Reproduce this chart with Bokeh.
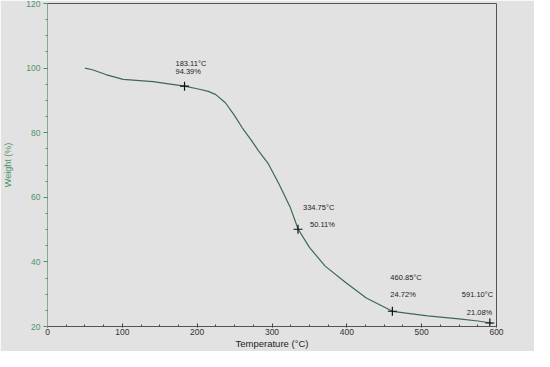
from bokeh.plotting import figure
from bokeh.models import Range1d, Label, SingleIntervalTicker, ColumnDataSource
from bokeh.core.properties import value
from bokeh.embed import file_html
from bokeh.resources import INLINE

# TGA curve
temperature = [50, 60, 78, 101, 141, 183, 200, 215, 225, 238, 250, 260, 272, 282, 295,
               309, 324, 335, 350, 371, 398, 426, 461, 508, 553, 575, 595]
weight = [100.0, 99.5, 98.0, 96.5, 95.8, 94.4, 93.6, 92.8, 91.8, 89.2, 85.3, 81.6, 77.8, 74.4, 70.4,
          64.3, 57.1, 50.1, 44.5, 38.7, 33.7, 28.8, 24.7, 23.3, 22.3, 21.7, 21.0]

# marked points
mark_temp = [183.11, 334.75, 460.85, 591.10]
mark_weight = [94.39, 50.11, 24.72, 21.08]

x_ticks = [0, 100, 200, 300, 400, 500, 600]
y_ticks = [20, 40, 60, 80, 100, 120]

FONT = "Liberation Sans"
BG = "#e2e2e2"
GREEN = "#4f9268"
CURVE = "#3b6b4f"

p = figure(width=534, height=351, output_backend="svg", toolbar_location=None,
           x_range=Range1d(x_ticks[0], x_ticks[-1]), y_range=Range1d(y_ticks[0], y_ticks[-1]),
           min_border_left=43, min_border_right=38, min_border_top=3, min_border_bottom=22)
p.background_fill_color = BG
p.border_fill_color = BG
p.outline_line_color = "#555555"
p.outline_line_width = 1
p.grid.visible = False

# axes
p.xaxis.ticker = SingleIntervalTicker(interval=100, num_minor_ticks=4)
p.yaxis.ticker = SingleIntervalTicker(interval=20, num_minor_ticks=4)
p.xaxis.axis_label = "Temperature (°C)"
p.yaxis.axis_label = "Weight (%)"
for ax in (p.xaxis, p.yaxis):
    ax.axis_label_text_font = FONT
    ax.axis_label_text_font_style = "normal"
    ax.major_label_text_font = FONT
    ax.axis_label_standoff = 0

p.xaxis.axis_line_color = "#555555"
p.xaxis.major_tick_line_color = "#444444"
p.xaxis.minor_tick_line_color = "#444444"
p.xaxis.major_tick_in = 3
p.xaxis.major_tick_out = 1
p.xaxis.minor_tick_in = 2
p.xaxis.minor_tick_out = 0
p.xaxis.major_label_standoff = 1
p.xaxis.major_label_text_font_size = "8.5px"
p.xaxis.major_label_text_color = "#333333"
p.xaxis.axis_label_text_font_size = "9.5px"
p.xaxis.axis_label_text_color = "#222222"

p.yaxis.axis_line_color = "#7fae8e"
p.yaxis.major_tick_line_color = "#5a8a6a"
p.yaxis.minor_tick_line_color = "#5a8a6a"
p.yaxis.major_tick_in = 0
p.yaxis.major_tick_out = 4
p.yaxis.minor_tick_in = 0
p.yaxis.minor_tick_out = 2
p.yaxis.major_label_standoff = 3
p.yaxis.major_label_text_font_size = "8.5px"
p.yaxis.major_label_text_color = GREEN
p.yaxis.axis_label_text_font_size = "9px"
p.yaxis.axis_label_text_color = GREEN
p.yaxis.axis_label_standoff = 10

# curve
p.line(temperature, weight, line_color=CURVE, line_width=1.2)

# markers
p.scatter(mark_temp, mark_weight, marker="cross", size=9, line_color="#111111", line_width=1.2)

# annotation labels (text glyphs, offset in screen pixels from each marked point)
t_labels = [f"{t:.2f}°C" for t in mark_temp]
w_labels = [f"{w:.2f}%" for w in mark_weight]
ann = ColumnDataSource(dict(
    x=mark_temp + mark_temp,
    y=mark_weight + mark_weight,
    text=t_labels + w_labels,
    dx=[-9, 5, -2, -28, -9, 12, -2, -23],
    dy=[-23, -22, -34, -29, -15, -5, -17, -11],
))
p.text(x="x", y="y", text="text", x_offset="dx", y_offset="dy", source=ann,
       text_align="left", text_baseline="middle", text_font=value(FONT),
       text_font_size="7.5px", text_color="#222222")

# instrument note under the right end of the x axis
p.add_layout(Label(x=x_ticks[-1], y=y_ticks[0], x_offset=36, y_offset=-20,
                   text="Universal V4.4A TA Instruments", text_align="right",
                   text_baseline="middle", text_font=FONT, text_font_size="6px",
                   text_color="#333333"))

open("out.html", "w").write(file_html(p, INLINE))
